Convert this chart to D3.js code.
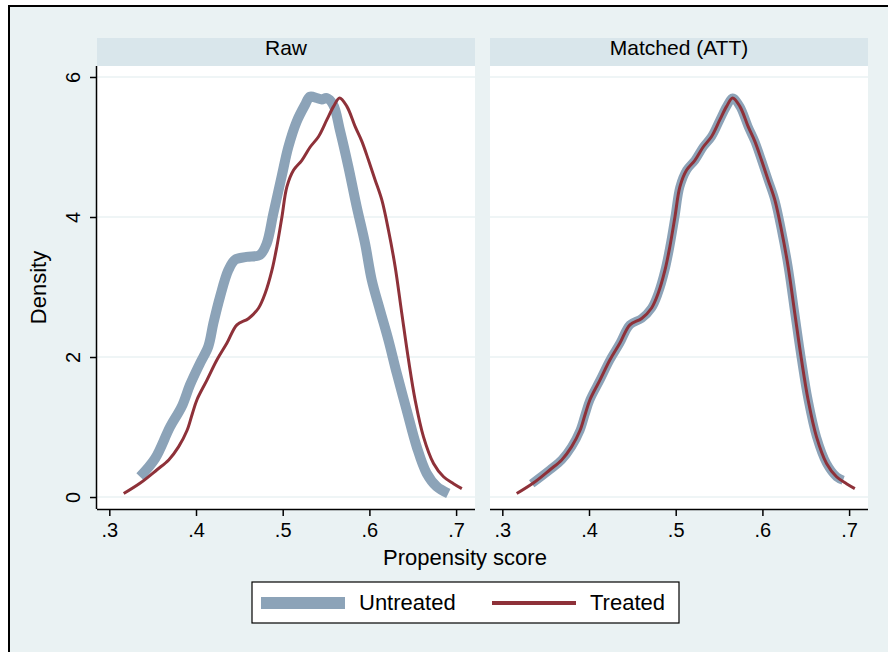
<!DOCTYPE html>
<html>
<head>
<meta charset="utf-8">
<script src="https://cdn.jsdelivr.net/npm/d3@7"></script>
<style>
  body { margin: 0; background: #ffffff; }
  text { font-family: "Liberation Sans", Arial, sans-serif; fill: #000; }
</style>
</head>
<body>
<div id="chart"></div>
<script>
// panel titles + legend names
var panels = ["Raw", "Matched (ATT)"];
var seriesNames = ["Untreated", "Treated"];
var xTicks = [0.3, 0.4, 0.5, 0.6, 0.7];
var yTicks = [0, 2, 4, 6];

// Raw panel, untreated: [score, density]
var rawUntreated = [
  [0.3354, 0.29], [0.3528, 0.55], [0.370, 1.0], [0.3835, 1.29], [0.393, 1.6],
  [0.4046, 1.91], [0.4142, 2.15], [0.420, 2.48], [0.4277, 2.86], [0.4373, 3.24],
  [0.445, 3.39], [0.4585, 3.43], [0.4738, 3.46], [0.4815, 3.62], [0.4892, 4.05],
  [0.4988, 4.58], [0.5065, 5.0], [0.516, 5.36], [0.5257, 5.6], [0.5315, 5.72],
  [0.5392, 5.70], [0.545, 5.68], [0.5507, 5.70], [0.5584, 5.6], [0.566, 5.24],
  [0.5757, 4.72], [0.5853, 4.15], [0.595, 3.62], [0.6027, 3.1], [0.6122, 2.67],
  [0.622, 2.24], [0.6315, 1.77], [0.643, 1.24], [0.6545, 0.72], [0.666, 0.34],
  [0.6776, 0.15], [0.691, 0.05]
];

// treated (same curve in both panels)
var treated = [
  [0.3166, 0.05], [0.3357, 0.20], [0.355, 0.39], [0.3685, 0.53], [0.380, 0.72],
  [0.3896, 0.95], [0.3955, 1.18], [0.4011, 1.39], [0.4126, 1.67], [0.4242, 1.96], [0.4357, 2.20],
  [0.4472, 2.46], [0.4607, 2.55], [0.4722, 2.70], [0.4798, 2.91], [0.4876, 3.24],
  [0.4933, 3.58], [0.4991, 4.0], [0.5048, 4.43], [0.5126, 4.67], [0.5221, 4.81],
  [0.5317, 5.0], [0.5414, 5.15], [0.551, 5.39], [0.5587, 5.58], [0.5656, 5.70],
  [0.574, 5.58], [0.5836, 5.29], [0.5913, 5.08], [0.599, 4.81], [0.6066, 4.53],
  [0.6144, 4.24], [0.622, 3.81], [0.6297, 3.29], [0.6374, 2.62], [0.6451, 1.96],
  [0.6527, 1.39], [0.6624, 0.86], [0.674, 0.48], [0.6855, 0.29], [0.697, 0.19],
  [0.7066, 0.12]
];

// Matched panel, untreated
var matchedUntreated = [
  [0.3339, 0.19], [0.355, 0.39], [0.3685, 0.53], [0.380, 0.72],
  [0.3896, 0.95], [0.3955, 1.18], [0.4011, 1.39], [0.4126, 1.67], [0.4242, 1.96], [0.4357, 2.20],
  [0.4472, 2.46], [0.4607, 2.55], [0.4722, 2.70], [0.4798, 2.91], [0.4876, 3.24],
  [0.4933, 3.58], [0.4991, 4.0], [0.5048, 4.43], [0.5126, 4.67], [0.5221, 4.81],
  [0.5317, 5.0], [0.5414, 5.15], [0.551, 5.39], [0.5587, 5.58], [0.5656, 5.70],
  [0.574, 5.58], [0.5836, 5.29], [0.5913, 5.08], [0.599, 4.81], [0.6066, 4.53],
  [0.6144, 4.24], [0.622, 3.81], [0.6297, 3.29], [0.6374, 2.62], [0.6451, 1.96],
  [0.6527, 1.39], [0.6624, 0.86], [0.674, 0.48], [0.6855, 0.29], [0.6931, 0.24]
];

var svgWidth = 888, svgHeight = 652;
var bgColor = "#eaf2f3", stripColor = "#d9e6eb", gridColor = "#eaf2f3";
var untreatedColor = "#8ca3b8", treatedColor = "#8e3139";

// plot regions
var plotTop = 66, plotBottom = 509, stripH = 28;
var panelW = 378;
var panelLeft = [97, 490];
var plotH = plotBottom - plotTop;

var svg = d3.select("#chart").append("svg")
  .attr("width", svgWidth)
  .attr("height", svgHeight);

// outer graph region with frame (cropped at right/bottom)
svg.append("rect")
  .attr("x", 9).attr("y", 6)
  .attr("width", svgWidth + 20).attr("height", svgHeight + 20)
  .attr("fill", bgColor)
  .attr("stroke", "#000").attr("stroke-width", 2);

var x = d3.scaleLinear().domain([0.2858, 0.7218]).range([0, panelW]);
var y = d3.scaleLinear().domain([-0.171, 6.157]).range([plotH, 0]);

var line = d3.line()
  .x(d => x(d[0]))
  .y(d => y(d[1]))
  .curve(d3.curveCatmullRom);

var panelData = [
  { untreated: rawUntreated, treated: treated },
  { untreated: matchedUntreated, treated: treated }
];

panels.forEach(function(title, i) {
  var g = svg.append("g")
    .attr("transform", `translate(${panelLeft[i]}, ${plotTop})`);

  // title strip
  g.append("rect")
    .attr("x", 0).attr("y", -stripH)
    .attr("width", panelW).attr("height", stripH)
    .attr("fill", stripColor);
  g.append("text")
    .attr("x", panelW / 2).attr("y", -11)
    .attr("text-anchor", "middle")
    .attr("font-size", "21px")
    .text(title);

  // plot area
  g.append("rect")
    .attr("width", panelW).attr("height", plotH)
    .attr("fill", "#fff");

  // gridlines
  g.selectAll(".grid")
    .data(yTicks)
    .enter()
    .append("line")
    .attr("x1", 0).attr("x2", panelW)
    .attr("y1", d => y(d)).attr("y2", d => y(d))
    .attr("stroke", gridColor)
    .attr("stroke-width", 1.5);

  // curves
  g.append("path")
    .datum(panelData[i].untreated)
    .attr("d", line)
    .attr("fill", "none")
    .attr("stroke", untreatedColor)
    .attr("stroke-width", i == 0 ? 10 : 9)
    .attr("stroke-linejoin", "round");

  g.append("path")
    .datum(panelData[i].treated)
    .attr("d", line)
    .attr("fill", "none")
    .attr("stroke", treatedColor)
    .attr("stroke-width", 3)
    .attr("stroke-linejoin", "round");

  // x axis
  var xAxis = g.append("g")
    .attr("transform", `translate(0, ${plotH})`)
    .call(d3.axisBottom(x).tickValues(xTicks).tickSize(7).tickPadding(5)
      .tickFormat(d => d3.format(".1f")(d).replace(/^0/, "")));
  xAxis.select(".domain").attr("d", `M0,0.5H${panelW}`).attr("stroke-width", 1.5);
  xAxis.selectAll(".tick line").attr("stroke-width", 1.5);
  xAxis.selectAll(".tick text")
    .attr("font-size", "20px")
    .attr("font-family", "Liberation Sans, Arial, sans-serif")
    .attr("dy", "0.8em");

  // y axis only on first panel
  if (i == 0) {
    var yAxis = g.append("g")
      .call(d3.axisLeft(y).tickValues(yTicks).tickSize(7).tickFormat(d3.format("d")));
    yAxis.select(".domain").attr("d", `M-0.5,0V${plotH}`).attr("stroke-width", 1.5);
    yAxis.selectAll(".tick line").attr("stroke-width", 1.5);
    yAxis.selectAll(".tick text")
      .attr("font-size", "20px")
      .attr("font-family", "Liberation Sans, Arial, sans-serif")
      .attr("text-anchor", "middle")
      .attr("x", null).attr("dy", null)
      .attr("transform", "translate(-17.5, 0) rotate(-90)")
      .attr("y", 0);
  }
});

// axis titles
svg.append("text")
  .attr("x", 465).attr("y", 565)
  .attr("text-anchor", "middle")
  .attr("font-size", "22px")
  .text("Propensity score");

svg.append("text")
  .attr("transform", `translate(46, ${plotTop + plotH / 2}) rotate(-90)`)
  .attr("text-anchor", "middle")
  .attr("font-size", "22px")
  .text("Density");

// legend
var legend = svg.append("g").attr("transform", "translate(252, 582)");
legend.append("rect")
  .attr("width", 427).attr("height", 41)
  .attr("fill", "#fff")
  .attr("stroke", "#000").attr("stroke-width", 1.2);

var legendItems = [
  { name: seriesNames[0], color: untreatedColor, w: 12, x0: 9, tx: 107 },
  { name: seriesNames[1], color: treatedColor, w: 4, x0: 240, tx: 338 }
];
legendItems.forEach(function(item) {
  legend.append("line")
    .attr("x1", item.x0).attr("x2", item.x0 + 84)
    .attr("y1", 21).attr("y2", 21)
    .attr("stroke", item.color)
    .attr("stroke-width", item.w);
  legend.append("text")
    .attr("x", item.tx).attr("y", 28)
    .attr("font-size", "22px")
    .text(item.name);
});
</script>
</body>
</html>
